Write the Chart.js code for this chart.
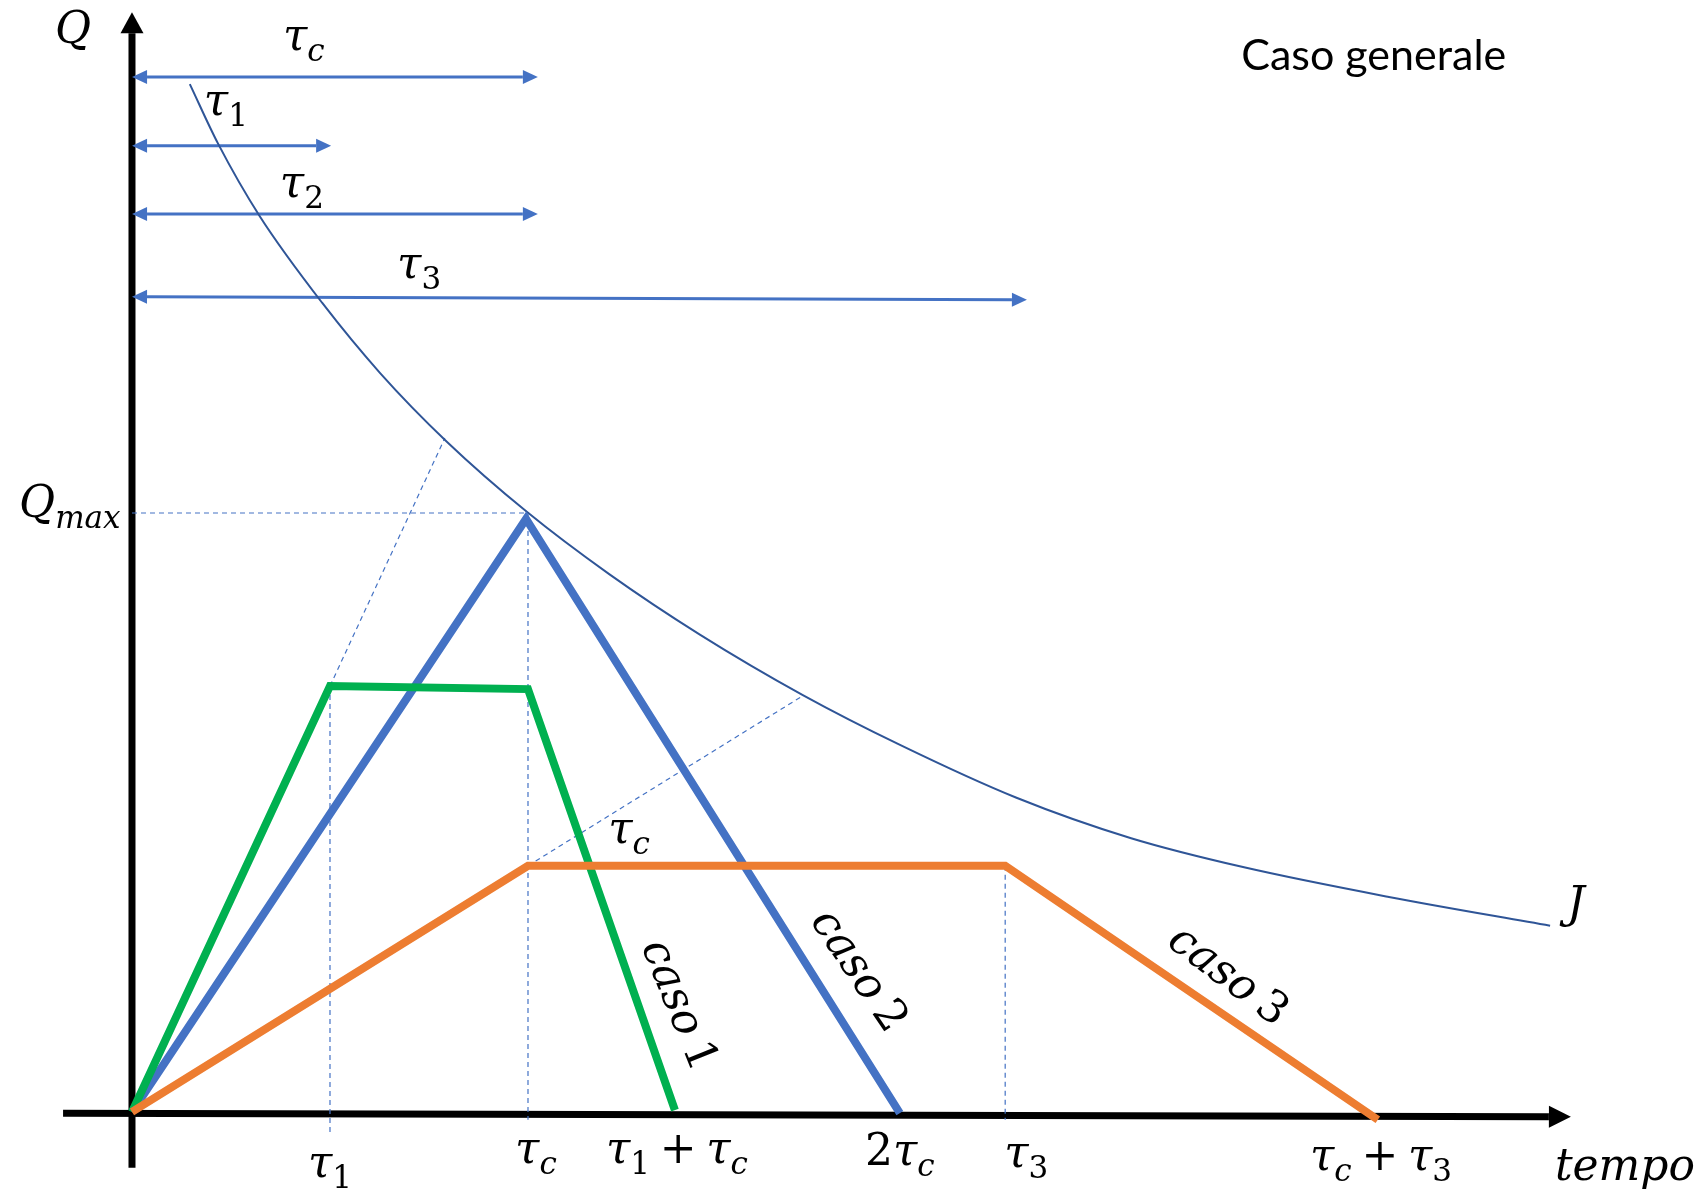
<!DOCTYPE html>
<html>
<head>
<meta charset="utf-8">
<script src="https://cdn.jsdelivr.net/npm/chart.js@4.4.1/dist/chart.umd.min.js"></script>
<style>
html, body { margin: 0; padding: 0; background: #fff; }
#wrap { width: 1706px; height: 1192px; }
</style>
</head>
<body>
<div id="wrap"><canvas id="chart" width="1706" height="1192"></canvas></div>
<script>
// tempo in unità di τc, portata in unità di Qmax
const tickValues = [0.5, 1, 1.371, 1.939, 2.205, 3.146];
const tickLabels = ['τ_1', 'τ_c', 'τ_1 + τ_c', '2τ_c', 'τ_3', 'τ_c + τ_3'];

// idrogrammi dei tre casi
const caso1X = [0, 0.5, 1, 1.371];
const caso1Q = [0, 0.711, 0.706, 0.003];
const caso2X = [0, 0.995, 1.939];
const caso2Q = [0, 0.99, -0.002];
const caso3X = [0, 1, 2.205, 3.146];
const caso3Q = [0, 0.411, 0.411, -0.013];

// curva J
const curvaJX = [0.146, 0.217, 0.323, 0.480, 0.626, 0.795, 0.997, 1.205, 1.434, 1.694, 1.942, 2.232, 2.523, 2.811, 3.174, 3.581];
const curvaJQ = [1.716, 1.617, 1.495, 1.351, 1.234, 1.119, 1.002, 0.898, 0.797, 0.696, 0.612, 0.525, 0.457, 0.408, 0.359, 0.311];

// linee tratteggiate di riferimento (inizio, fine)
const guideX = [[0, 1], [0.5, 0.5], [1, 1], [2.205, 2.205], [0.5, 0.79], [1, 1.692]];
const guideQ = [[1, 1], [0.711, -0.035], [1, -0.013], [0.411, -0.013], [0.711, 1.125], [0.411, 0.694]];

// frecce delle durate (estremi del tratto, le punte vengono aggiunte)
const durataLabels = ['τ_c', 'τ_1', 'τ_2', 'τ_3'];
const durataX = [[0.038, 0.987], [0.038, 0.465], [0.038, 0.987], [0.038, 2.222]];
const durataQ = [[1.728, 1.728], [1.613, 1.613], [1.499, 1.499], [1.361, 1.356]];

// assi
const asseXX = [-0.174, 3.578];
const asseXQ = [-0.002, -0.008];
const asseYX = [0, 0];
const asseYQ = [-0.093, 1.801];

// --- impaginazione ---
const X_MIN = -0.3333, X_MAX = 3.9747;
const Y_MIN = -0.1336, Y_MAX = 1.8564;

const tickLabelX = [0.5, 1.02, 1.376, 1.939, 2.258, 3.154];
const tickLabelY = [-0.1085, -0.085, -0.085, -0.0885, -0.092, -0.097];
const durataLabelPos = [[0.434, 1.773], [0.237, 1.664], [0.429, 1.528], [0.725, 1.392]];

const BLU = '#4472C4';
const VERDE = '#00B050';
const ARANCIO = '#ED7D31';
const BLU_J = '#2F5597';
const MATH_FONT = '"DejaVu Serif", "Liberation Serif", serif';

const pts = (xs, ys) => xs.map((x, i) => ({ x, y: ys[i] }));

// testo "matematico": _x o _{xyz} per i pedici
function drawMath(ctx, str, x, y, size, align) {
    const parts = [];
    for (let i = 0; i < str.length; i++) {
        const ch = str[i];
        if (ch === '_') {
            if (str[i + 1] === '{') {
                const j = str.indexOf('}', i);
                for (const c of str.slice(i + 2, j)) parts.push({ t: c, sub: true });
                i = j;
            } else {
                parts.push({ t: str[i + 1], sub: true });
                i++;
            }
        } else {
            parts.push({ t: ch, sub: false });
        }
    }
    const fontOf = p => {
        const s = p.sub ? Math.round(size * 0.7) : size;
        const italic = /[A-Za-zτ]/.test(p.t);
        return (italic ? 'italic ' : '') + s + 'px ' + MATH_FONT;
    };
    let w = 0;
    parts.forEach(p => {
        ctx.font = fontOf(p);
        p.w = p.t === ' ' ? size * 0.22 : ctx.measureText(p.t).width;
        w += p.w;
    });
    let cx = align === 'center' ? x - w / 2 : (align === 'right' ? x - w : x);
    ctx.textAlign = 'left';
    ctx.textBaseline = 'alphabetic';
    parts.forEach(p => {
        ctx.font = fontOf(p);
        if (p.t !== ' ') ctx.fillText(p.t, cx, p.sub ? y + size * 0.25 : y);
        cx += p.w;
    });
}

// punte delle frecce, aggiunte oltre gli estremi del tratto
const arrowHeads = {
    id: 'arrowHeads',
    afterDatasetsDraw(chart) {
        const ctx = chart.ctx;
        chart.data.datasets.forEach((ds, i) => {
            if (!ds.heads) return;
            const el = chart.getDatasetMeta(i).data;
            ds.heads.forEach(side => {
                const p = side === 'end' ? el[el.length - 1] : el[0];
                const q = side === 'end' ? el[el.length - 2] : el[1];
                const dx = p.x - q.x, dy = p.y - q.y;
                const len = Math.hypot(dx, dy);
                const ux = dx / len, uy = dy / len;
                const L = ds.headLen, W = ds.headWidth / 2;
                ctx.save();
                ctx.fillStyle = ds.borderColor;
                ctx.beginPath();
                ctx.moveTo(p.x + ux * L, p.y + uy * L);
                ctx.lineTo(p.x - uy * W, p.y + ux * W);
                ctx.lineTo(p.x + uy * W, p.y - ux * W);
                ctx.closePath();
                ctx.fill();
                ctx.restore();
            });
        });
    }
};

// etichette
const labels = {
    id: 'labels',
    afterDraw(chart) {
        const ctx = chart.ctx;
        const sx = chart.scales.x, sy = chart.scales.y;
        const X = v => sx.getPixelForValue(v);
        const Y = v => sy.getPixelForValue(v);
        ctx.save();
        ctx.fillStyle = '#000';

        tickLabels.forEach((t, i) => drawMath(ctx, t, X(tickLabelX[i]), Y(tickLabelY[i]), 44, 'center'));
        durataLabels.forEach((t, i) => drawMath(ctx, t, X(durataLabelPos[i][0]), Y(durataLabelPos[i][1]), 44, 'center'));

        drawMath(ctx, 'Q', X(-0.149), Y(1.785), 44, 'center');
        drawMath(ctx, 'Q_{max}', X(-0.157), Y(0.993), 44, 'center');
        drawMath(ctx, 'τ_c', X(1.255), Y(0.449), 44, 'center');
        drawMath(ctx, 'J', X(3.646), Y(0.324), 44, 'center');
        drawMath(ctx, 'tempo', X(3.770), Y(-0.1135), 44, 'center');

        // etichette ruotate lungo i rami discendenti
        [['caso 1', 1.384, 0.179, 68], ['caso 2', 1.838, 0.237, 56], ['caso 3', 2.770, 0.229, 37]].forEach(([t, x, y, a]) => {
            ctx.save();
            ctx.translate(X(x), Y(y));
            ctx.rotate(a * Math.PI / 180);
            drawMath(ctx, t, 0, 14, 44, 'center');
            ctx.restore();
        });

        ctx.font = '43px Lato, "Open Sans", sans-serif';
        ctx.textAlign = 'left';
        ctx.textBaseline = 'alphabetic';
        ctx.fillText('Caso generale', X(2.801), Y(1.740));
        ctx.restore();
    }
};

const lineDs = (data, color, width, order, extra) => Object.assign({
    data, borderColor: color, backgroundColor: color, borderWidth: width,
    showLine: true, pointRadius: 0, fill: false, tension: 0, clip: false, order
}, extra || {});

// order più basso = disegnato sopra
const datasets = [
    lineDs(pts(caso3X, caso3Q), ARANCIO, 8, 1, { borderJoinStyle: 'miter' }),
    lineDs(pts(caso1X, caso1Q), VERDE, 8, 2, { borderJoinStyle: 'miter' }),
    lineDs(pts(caso2X, caso2Q), BLU, 8, 3, { borderJoinStyle: 'miter' }),
    lineDs(pts(curvaJX, curvaJQ), BLU_J, 2, 4, { cubicInterpolationMode: 'monotone' }),
];
durataX.forEach((xs, i) => {
    datasets.push(lineDs(pts(xs, durataQ[i]), BLU, 3, 5, { heads: ['start', 'end'], headLen: 15, headWidth: 14 }));
});
guideX.forEach((xs, i) => {
    datasets.push(lineDs(pts(xs, guideQ[i]), BLU, 1.2, 6, { borderDash: [5, 4] }));
});
datasets.push(lineDs(pts(asseXX, asseXQ), '#000', 7, 7, { heads: ['end'], headLen: 22, headWidth: 22 }));
datasets.push(lineDs(pts(asseYX, asseYQ), '#000', 7, 7, { heads: ['end'], headLen: 21, headWidth: 23 }));

new Chart(document.getElementById('chart'), {
    type: 'scatter',
    data: { datasets },
    options: {
        responsive: false,
        animation: false,
        devicePixelRatio: 1,
        layout: { padding: 0 },
        scales: {
            x: { type: 'linear', min: X_MIN, max: X_MAX, display: false },
            y: { type: 'linear', min: Y_MIN, max: Y_MAX, display: false }
        },
        plugins: {
            legend: { display: false },
            tooltip: { enabled: false }
        }
    },
    plugins: [arrowHeads, labels]
});
</script>
</body>
</html>
